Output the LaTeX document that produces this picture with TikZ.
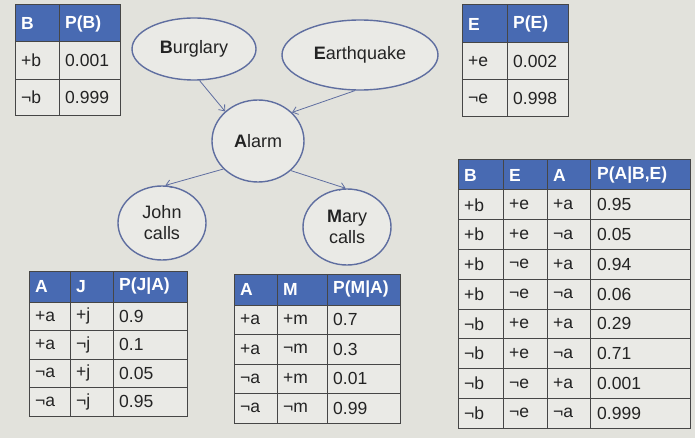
\documentclass[tikz,border=0pt]{standalone}
\usepackage{fontspec}
\setmainfont{Liberation Sans}
\usetikzlibrary{arrows.meta,shapes.geometric}
\definecolor{BackClr}{RGB}{226,226,220}
\definecolor{CellClr}{RGB}{234,234,230}
\definecolor{HeadClr}{RGB}{72,106,178}
\definecolor{GridClr}{RGB}{70,70,70}
\definecolor{LinkClr}{RGB}{95,110,160}
\definecolor{TextClr}{RGB}{35,35,35}
\newcommand{\tabfont}{\fontsize{17.5}{19}\selectfont}

\begin{document}
\begin{tikzpicture}[x=1pt,y=-1pt,
  var/.style={ellipse,draw=LinkClr,line width=1.4pt,fill=CellClr,text=TextClr,
    font=\fontsize{18}{21}\selectfont,align=center,inner sep=0pt},
  link/.style={LinkClr,line width=0.8pt,-{Straight Barb[length=5pt,width=8pt]}},
  grid/.style={GridClr,line width=1pt},
  cell/.style={anchor=west,inner sep=0pt,text=TextClr,font=\tabfont},
  hdr/.style={anchor=west,inner sep=0pt,text=white,font=\tabfont\bfseries}]
\fill[BackClr] (0,0) rectangle (695,438);
\useasboundingbox (0,0) rectangle (695,438);

% network
\node[var,minimum width=124pt,minimum height=62pt] (burg) at (194,49) {\textbf{B}urglary};
\node[var,minimum width=156pt,minimum height=70pt] (quake) at (360,55) {\textbf{E}arthquake};
\node[var,minimum width=92pt,minimum height=82pt] (alarm) at (258,141) {\textbf{A}larm};
\node[var,minimum width=88pt,minimum height=74pt] (john) at (162,223) {John\\calls};
\node[var,minimum width=88pt,minimum height=76pt] (mary) at (347,227) {\textbf{M}ary\\calls};

\draw[link] (burg.280) -- (alarm.138);
\draw[link] (quake.262) -- (alarm.40);
\draw[link] (alarm.219) -- (john.85);
\draw[link] (alarm.318) -- (mary.92);

% P(B)
\fill[HeadClr] (15,5) rectangle (120,42);
\fill[CellClr] (15,42) rectangle (120,116);
\foreach \y in {42,80} \draw[grid] (15,\y) -- (120,\y);
\draw[grid] (59,5) -- (59,116);
\draw[grid] (15,5) rectangle (120,116);
\node[hdr] (pbh1) at (21,23.5) {B};
\node[hdr] (pbh2) at (65,23.5) {P(B)};
\foreach \v/\p [count=\i] in {+b/0.001,¬b/0.999} {
  \node[cell] (pb\i a) at (21,{42+37*(\i-0.5)}) {\v};
  \node[cell] (pb\i b) at (65,{42+37*(\i-0.5)}) {\p};
}

% P(E)
\fill[HeadClr] (462,5) rectangle (568,43);
\fill[CellClr] (462,43) rectangle (568,117);
\foreach \y in {43,80} \draw[grid] (462,\y) -- (568,\y);
\draw[grid] (507,5) -- (507,117);
\draw[grid] (462,5) rectangle (568,117);
\node[hdr] (peh1) at (468,24) {E};
\node[hdr] (peh2) at (513,24) {P(E)};
\foreach \v/\p [count=\i] in {+e/0.002,¬e/0.998} {
  \node[cell] (pe\i a) at (468,{43+37*(\i-0.5)}) {\v};
  \node[cell] (pe\i b) at (513,{43+37*(\i-0.5)}) {\p};
}

% P(A|B,E)
\fill[HeadClr] (458,160) rectangle (690,190);
\fill[CellClr] (458,190) rectangle (690,428);
\foreach \i in {0,...,7} \draw[grid] (458,{190+29.75*\i}) -- (690,{190+29.75*\i});
\foreach \x in {503,547,590} \draw[grid] (\x,160) -- (\x,428);
\draw[grid] (458,160) rectangle (690,428);
\node[hdr] (pah1) at (464,175) {B};
\node[hdr] (pah2) at (509,175) {E};
\node[hdr] (pah3) at (553,175) {A};
\node[hdr] (pah4) at (597,175) {P(A|B,E)};
\foreach \b/\e/\a/\p [count=\i] in {+b/+e/+a/0.95,+b/+e/¬a/0.05,+b/¬e/+a/0.94,+b/¬e/¬a/0.06,
    ¬b/+e/+a/0.29,¬b/+e/¬a/0.71,¬b/¬e/+a/0.001,¬b/¬e/¬a/0.999} {
  \node[cell] (pa\i a) at (464,{190+29.75*(\i-0.5)}) {\b};
  \node[cell] (pa\i b) at (509,{190+29.75*(\i-0.5)}) {\e};
  \node[cell] (pa\i c) at (553,{190+29.75*(\i-0.5)}) {\a};
  \node[cell] (pa\i d) at (597,{190+29.75*(\i-0.5)}) {\p};
}

% P(J|A)
\fill[HeadClr] (29,271) rectangle (187,302);
\fill[CellClr] (29,302) rectangle (187,416);
\foreach \i in {0,...,3} \draw[grid] (29,{302+28.5*\i}) -- (187,{302+28.5*\i});
\foreach \x in {70,113} \draw[grid] (\x,271) -- (\x,416);
\draw[grid] (29,271) rectangle (187,416);
\node[hdr] (pjh1) at (35,286.5) {A};
\node[hdr] (pjh2) at (76,286.5) {J};
\node[hdr] (pjh3) at (119,286.5) {P(J|A)};
\foreach \a/\j/\p [count=\i] in {+a/+j/0.9,+a/¬j/0.1,¬a/+j/0.05,¬a/¬j/0.95} {
  \node[cell] (pj\i a) at (35,{302+28.5*(\i-0.5)}) {\a};
  \node[cell] (pj\i b) at (76,{302+28.5*(\i-0.5)}) {\j};
  \node[cell] (pj\i c) at (119,{302+28.5*(\i-0.5)}) {\p};
}

% P(M|A)
\fill[HeadClr] (234,274) rectangle (400,305);
\fill[CellClr] (234,305) rectangle (400,423);
\foreach \i in {0,...,3} \draw[grid] (234,{305+29.5*\i}) -- (400,{305+29.5*\i});
\foreach \x in {277,327} \draw[grid] (\x,274) -- (\x,423);
\draw[grid] (234,274) rectangle (400,423);
\node[hdr] (pmh1) at (240,289.5) {A};
\node[hdr] (pmh2) at (283,289.5) {M};
\node[hdr] (pmh3) at (333,289.5) {P(M|A)};
\foreach \a/\m/\p [count=\i] in {+a/+m/0.7,+a/¬m/0.3,¬a/+m/0.01,¬a/¬m/0.99} {
  \node[cell] (pm\i a) at (240,{305+29.5*(\i-0.5)}) {\a};
  \node[cell] (pm\i b) at (283,{305+29.5*(\i-0.5)}) {\m};
  \node[cell] (pm\i c) at (333,{305+29.5*(\i-0.5)}) {\p};
}
\end{tikzpicture}
\end{document}
